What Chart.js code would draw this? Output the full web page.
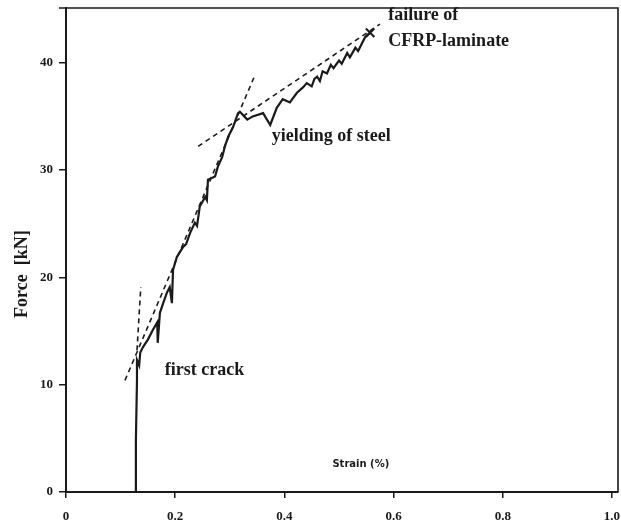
<!DOCTYPE html>
<html>
<head>
<meta charset="utf-8">
<script src="https://cdn.jsdelivr.net/npm/chart.js@4/dist/chart.umd.min.js"></script>
<style>
  html, body { margin: 0; padding: 0; background: #fff; }
  #wrap { width: 621px; height: 524px; }
</style>
</head>
<body>
<div id="wrap"><canvas id="chart" width="621" height="524"></canvas></div>
<script>
// Measured curve: strain [%] vs force [kN]
const strain = [0.128, 0.128, 0.130, 0.130, 0.134, 0.136, 0.141, 0.150, 0.159, 0.167, 0.168, 0.172,
  0.178, 0.185, 0.190, 0.194, 0.196, 0.203, 0.214, 0.220, 0.227, 0.236, 0.240, 0.245, 0.255,
  0.258, 0.260, 0.273, 0.278, 0.286, 0.291, 0.297, 0.306, 0.315, 0.319, 0.332, 0.342, 0.361,
  0.374, 0.386, 0.397, 0.410, 0.423, 0.434, 0.441, 0.450, 0.455, 0.460, 0.465, 0.470, 0.478,
  0.485, 0.490, 0.500, 0.505, 0.515, 0.520, 0.530, 0.535, 0.548, 0.557];
const force = [0, 4.8, 10.4, 12.3, 11.8, 13.0, 13.5, 14.2, 15.1, 15.8, 13.9, 16.7,
  17.6, 18.6, 19.1, 17.6, 20.7, 21.9, 22.8, 23.1, 24.1, 25.1, 24.8, 26.6, 27.5,
  27.2, 29.1, 29.4, 30.3, 31.2, 32.2, 33.1, 34.0, 35.3, 35.4, 34.7, 35.0, 35.3,
  34.2, 35.8, 36.6, 36.3, 37.2, 37.7, 38.1, 37.8, 38.5, 38.7, 38.3, 39.2, 39.0,
  39.8, 39.5, 40.2, 39.9, 40.9, 40.5, 41.4, 41.1, 42.4, 42.8];

// Stiffness lines (dashed): [x0, x1], [y0, y1]
const uncrackedX = [0.130, 0.137];
const uncrackedY = [13.2, 19.1];
const crackedX = [0.108, 0.344];
const crackedY = [10.4, 38.6];
const yieldedX = [0.242, 0.575];
const yieldedY = [32.2, 43.6];

// Failure marker
const failureX = [0.557];
const failureY = [42.8];

const xTicks = [0, 0.2, 0.4, 0.6, 0.8, 1.0];
const yTicks = [0, 10, 20, 30, 40];

const toPoints = (xs, ys) => xs.map((x, i) => ({ x: x, y: ys[i] }));

const ink = '#1a1a1a';
const serif = '"Liberation Serif", "DejaVu Serif", serif';

// annotation texts placed in data coordinates
const notes = [
  { text: 'first crack', x: 0.181, y: 11.3, size: 18 },
  { text: 'yielding of steel', x: 0.377, y: 33.1, size: 18 },
  { text: 'failure of', x: 0.590, y: 44.4, size: 18 },
  { text: 'CFRP-laminate', x: 0.590, y: 42.0, size: 18 }
];

const decor = {
  id: 'decor',
  afterDraw(chart) {
    const ctx = chart.ctx;
    const a = chart.chartArea;
    const xs = chart.scales.x, ys = chart.scales.y;
    ctx.save();
    // frame top / right
    ctx.strokeStyle = ink;
    ctx.lineWidth = 1.6;
    ctx.beginPath();
    ctx.moveTo(a.left - 7, a.top);
    ctx.lineTo(a.right, a.top);
    ctx.lineTo(a.right, a.bottom);
    ctx.stroke();

    ctx.fillStyle = ink;
    ctx.textBaseline = 'middle';
    ctx.textAlign = 'left';
    notes.forEach(n => {
      ctx.font = 'bold ' + n.size + 'px ' + serif;
      ctx.fillText(n.text, xs.getPixelForValue(n.x), ys.getPixelForValue(n.y));
    });

    // small axis caption inside the plot
    ctx.font = 'bold 10px "DejaVu Sans", sans-serif';
    ctx.textAlign = 'center';
    ctx.fillText('Strain (%)', xs.getPixelForValue(0.54), ys.getPixelForValue(2.6));

    // y axis title
    ctx.font = 'bold 18px ' + serif;
    ctx.translate(22, ys.getPixelForValue(20.3));
    ctx.rotate(-Math.PI / 2);
    ctx.fillText('Force  [kN]', 0, 0);
    ctx.restore();
  }
};

const dashed = {
  showLine: true, borderColor: ink, borderWidth: 1.6, borderDash: [5, 4],
  pointRadius: 0, fill: false
};

new Chart(document.getElementById('chart'), {
  type: 'scatter',
  data: {
    datasets: [
      { data: toPoints(strain, force), showLine: true, borderColor: ink, borderWidth: 2.2,
        pointRadius: 0, tension: 0, fill: false },
      Object.assign({ data: toPoints(uncrackedX, uncrackedY) }, dashed),
      Object.assign({ data: toPoints(crackedX, crackedY) }, dashed),
      Object.assign({ data: toPoints(yieldedX, yieldedY) }, dashed),
      { data: toPoints(failureX, failureY), pointStyle: 'crossRot', pointRadius: 6,
        borderColor: ink, borderWidth: 2 }
    ]
  },
  options: {
    responsive: false,
    animation: false,
    layout: { autoPadding: false, padding: { top: 8, right: 3, bottom: 0, left: 0 } },
    plugins: { legend: { display: false }, tooltip: { enabled: false } },
    scales: {
      x: {
        type: 'linear', min: 0, max: 1.011,
        afterBuildTicks: s => { s.ticks = xTicks.map(v => ({ value: v })); },
        afterFit: s => { s.height = 32; s.paddingLeft = 0; s.paddingRight = 0; },
        grid: { drawOnChartArea: false, drawTicks: true, tickLength: 6, color: ink, lineWidth: 1.5 },
        border: { display: true, color: ink, width: 2 },
        ticks: { color: ink, padding: 11, maxRotation: 0,
          font: { family: serif, size: 13, weight: 'bold' },
          callback: v => v === 0 ? '0' : v.toFixed(1) }
      },
      y: {
        type: 'linear', min: 0, max: 45.1,
        afterBuildTicks: s => { s.ticks = yTicks.map(v => ({ value: v })); },
        afterFit: s => { s.width = 66; s.paddingTop = 0; s.paddingBottom = 0; },
        grid: { drawOnChartArea: false, drawTicks: true, tickLength: 7, color: ink, lineWidth: 1.5 },
        border: { display: true, color: ink, width: 2 },
        ticks: { color: ink, padding: 6,
          font: { family: serif, size: 13, weight: 'bold' } }
      }
    }
  },
  plugins: [decor]
});
</script>
</body>
</html>
